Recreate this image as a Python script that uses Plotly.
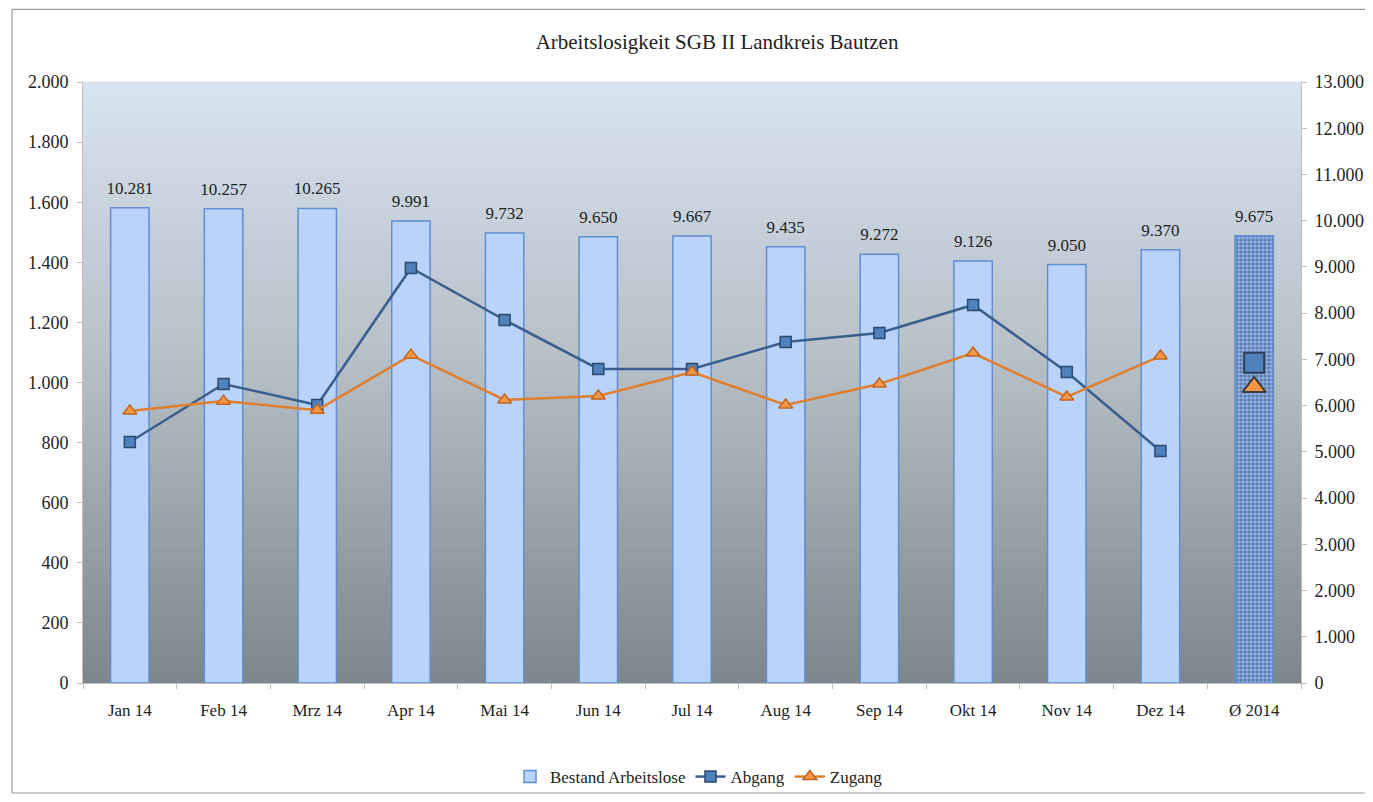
import plotly.graph_objects as go

categories = ["Jan 14", "Feb 14", "Mrz 14", "Apr 14", "Mai 14", "Jun 14", "Jul 14",
              "Aug 14", "Sep 14", "Okt 14", "Nov 14", "Dez 14", "Ø 2014"]
bestand = [10281, 10257, 10265, 9991, 9732, 9650, 9667, 9435, 9272, 9126, 9050, 9370, 9675]
abgang = [802, 995, 925, 1381, 1208, 1045, 1045, 1135, 1165, 1258, 1035, 772]
zugang = [905, 938, 908, 1091, 942, 955, 1035, 925, 995, 1098, 952, 1088]
avg_label = "Ø 2014"
abgang_avg = 1066
zugang_avg = 985

FONT = "Liberation Serif, Times New Roman, serif"

fig = go.Figure()

n = len(categories)
bar_colors = ["#bad3fa"] * (n - 1) + ["#86aef0"]
pattern_shapes = [""] * (n - 1) + ["."]

fig.add_trace(go.Bar(
    x=categories, y=bestand, name="Bestand Arbeitslose", yaxis="y",
    width=0.41,
    marker=dict(color=bar_colors, line=dict(color="#5f8fd2", width=1.5),
                pattern=dict(shape=pattern_shapes, fgcolor="#ffffff", bgcolor="#86acee",
                             size=4, solidity=0.5)),
))

# value labels above bars
fig.add_trace(go.Scatter(
    x=categories, y=bestand, yaxis="y", mode="markers+text", showlegend=False,
    hoverinfo="skip",
    marker=dict(size=14, opacity=0),
    text=[f"{v:,}".replace(",", ".") for v in bestand], textposition="top center",
    textfont=dict(family=FONT, size=17, color="#222222"),
    cliponaxis=False,
))

fig.add_trace(go.Scatter(
    x=categories[:-1], y=abgang, name="Abgang", yaxis="y2", mode="lines+markers",
    line=dict(color="#3a5f8e", width=2.5),
    marker=dict(symbol="square", size=11, color="#4f81bd", line=dict(color="#2c4a70", width=1.5)),
))
fig.add_trace(go.Scatter(
    x=categories[:-1], y=zugang, name="Zugang", yaxis="y2", mode="lines+markers",
    line=dict(color="#e07f2e", width=2.5),
    marker=dict(symbol="triangle-up", size=12, color="#f79646", line=dict(color="#c0651f", width=1.5)),
))
fig.add_trace(go.Scatter(
    x=[avg_label], y=[abgang_avg], yaxis="y2", mode="markers", showlegend=False,
    marker=dict(symbol="square", size=20, color="#4f81bd", line=dict(color="#2c3e55", width=2)),
))
fig.add_trace(go.Scatter(
    x=[avg_label], y=[zugang_avg], yaxis="y2", mode="markers", showlegend=False,
    marker=dict(symbol="triangle-up", size=20, color="#f79646", line=dict(color="#3a3a3a", width=2)),
))

# background gradient bands
shapes = []
steps = 80
top = (216, 228, 241)
mid = (184, 192, 200)
bot = (126, 134, 142)
for i in range(steps):
    t = i / (steps - 1)
    if t < 0.45:
        u = t / 0.45
        c = tuple(int(top[k] + (mid[k] - top[k]) * u) for k in range(3))
    else:
        u = (t - 0.45) / 0.55
        c = tuple(int(mid[k] + (bot[k] - mid[k]) * u) for k in range(3))
    y1 = 1 - i / steps
    y0 = 1 - (i + 1) / steps
    shapes.append(dict(type="rect", xref="paper", yref="paper", x0=0, x1=1, y0=y0, y1=y1 + 0.001,
                       fillcolor=f"rgb{c}", line=dict(width=0), layer="below"))
# outer chart border: top, left, bottom
border = dict(color="#9a9a9a", width=1.2)
shapes.append(dict(type="line", xref="paper", yref="paper", x0=-0.0583, x1=1.2, y0=1.121, y1=1.121,
                   line=border, layer="below"))
shapes.append(dict(type="line", xref="paper", yref="paper", x0=-0.0583, x1=-0.0583, y0=-0.183, y1=1.121,
                   line=border, layer="below"))
shapes.append(dict(type="line", xref="paper", yref="paper", x0=-0.0583, x1=1.2, y0=-0.183, y1=-0.183,
                   line=border, layer="below"))

axis_common = dict(showgrid=False, zeroline=False, ticks="outside", ticklen=5, tickcolor="#bfbfbf",
                   showline=True, linecolor="#bfbfbf", automargin=False)

fig.update_layout(
    width=1357, height=786,
    margin=dict(l=75, r=64, t=74, b=111, autoexpand=False),
    paper_bgcolor="white", plot_bgcolor="#c0c8d0",
    separators=",.",
    font=dict(family=FONT, size=17, color="#222222"),
    title=dict(text="Arbeitslosigkeit SGB II Landkreis Bautzen", x=0.5225, xref="container",
               xanchor="center", y=0.9567, yref="container", yanchor="middle",
               font=dict(family=FONT, size=21, color="#222222")),
    bargap=0.59,
    xaxis=dict(tickson="boundaries", ticklabelstandoff=12, range=[-0.5, len(categories) - 0.5],
               tickfont=dict(family=FONT, size=17), **axis_common),
    yaxis=dict(side="right", range=[0, 13000], dtick=1000, tickformat=",d",
               ticklabelstandoff=4, tickfont=dict(family=FONT, size=18), **axis_common),
    yaxis2=dict(side="left", overlaying="y", range=[0, 2000], dtick=200, tickformat=",d",
                ticklabelstandoff=5, tickfont=dict(family=FONT, size=18), **axis_common),
    legend=dict(orientation="h", xref="container", yref="container", x=0.5092, y=0.0216,
                xanchor="center", yanchor="middle", font=dict(family=FONT, size=17),
                bgcolor="rgba(0,0,0,0)", traceorder="normal"),
    shapes=shapes,
)

fig.write_html("out.html")
